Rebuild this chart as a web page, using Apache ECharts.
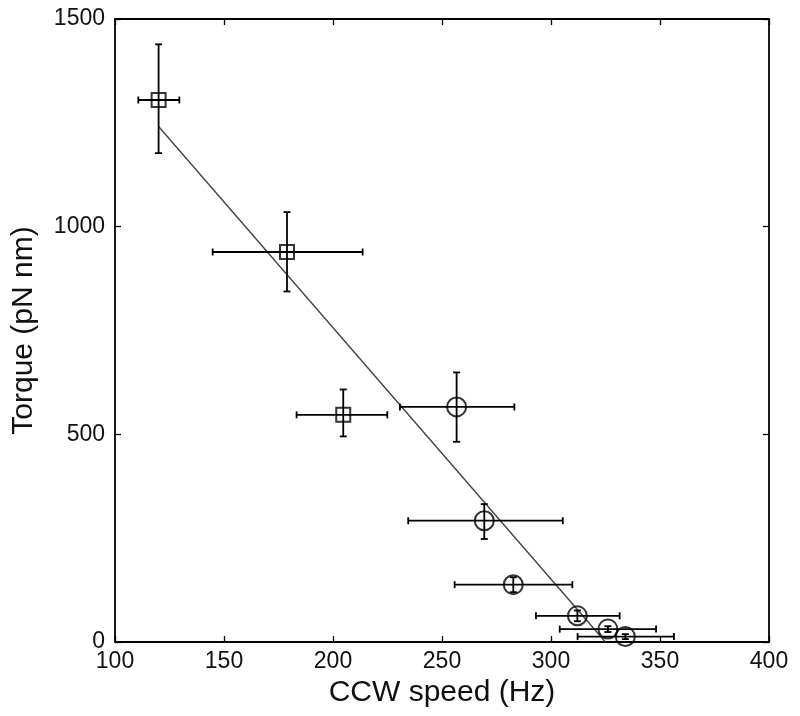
<!DOCTYPE html>
<html>
<head>
<meta charset="utf-8">
<script src="https://cdn.jsdelivr.net/npm/echarts@6/dist/echarts.min.js"></script>
<style>
html,body{margin:0;padding:0;background:#fff;}
#chart{width:800px;height:716px;}
</style>
</head>
<body>
<div id="chart"></div>
<script>
// Squares
const squareSpeed    = [120.0, 178.9, 204.7];
const squareTorque   = [1305, 939, 547];
const squareSpeedLo  = [110.7, 144.8, 183.3];
const squareSpeedHi  = [129.5, 213.6, 224.9];
const squareTorqueLo = [1177, 844, 495];
const squareTorqueHi = [1439, 1035, 608];

// Circles
const circleSpeed    = [256.7, 269.4, 282.7, 312.1, 326.1, 334.1];
const circleTorque   = [566, 292, 138, 63, 31, 13];
const circleSpeedLo  = [230.7, 234.5, 255.8, 293.1, 304.0, 312.2];
const circleSpeedHi  = [283.2, 305.4, 309.8, 331.5, 348.2, 356.4];
const circleTorqueLo = [482, 248, 120, 50, 24, 7];
const circleTorqueHi = [649, 332, 156, 76, 38, 19];

// Linear fit
const fitSpeed  = [120, 325];
const fitTorque = [1241, 0];

// Axis ticks
const xTicks = [100, 150, 200, 250, 300, 350, 400];
const yTicks = [0, 500, 1000, 1500];

function errData(xs, ys, xlo, xhi, ylo, yhi) {
  return xs.map((x, i) => [x, ys[i], xlo[i], xhi[i], ylo[i], yhi[i]]);
}

const CAP = 3.5;
function renderErr(params, api) {
  const c = api.coord([api.value(0), api.value(1)]);
  const l = api.coord([api.value(2), api.value(1)]);
  const r = api.coord([api.value(3), api.value(1)]);
  const b = api.coord([api.value(0), api.value(4)]);
  const t = api.coord([api.value(0), api.value(5)]);
  const st = { stroke: '#000', lineWidth: 1.8 };
  const ln = (x1, y1, x2, y2) => ({ type: 'line', shape: { x1, y1, x2, y2 }, style: st });
  return {
    type: 'group',
    children: [
      ln(l[0], c[1], r[0], c[1]),
      ln(l[0], c[1] - CAP, l[0], c[1] + CAP),
      ln(r[0], c[1] - CAP, r[0], c[1] + CAP),
      ln(c[0], b[1], c[0], t[1]),
      ln(c[0] - CAP, b[1], c[0] + CAP, b[1]),
      ln(c[0] - CAP, t[1], c[0] + CAP, t[1])
    ]
  };
}

const font = 'Liberation Sans, Arial, Helvetica, sans-serif';
const axisLineStyle = { color: '#000', width: 1.8 };
const plain = v => String(v);

const chart = echarts.init(document.getElementById('chart'), null, { renderer: 'canvas' });
chart.setOption({
  animation: false,
  backgroundColor: '#fff',
  grid: { left: 115, right: 31, top: 19, bottom: 74 },
  xAxis: [
    {
      type: 'value', min: xTicks[0], max: xTicks[xTicks.length - 1], interval: 50,
      position: 'bottom',
      name: 'CCW speed (Hz)', nameLocation: 'middle', nameGap: 36,
      nameTextStyle: { fontFamily: font, fontSize: 30, color: '#111' },
      axisLine: { show: true, onZero: false, lineStyle: axisLineStyle },
      axisTick: { show: true, inside: true, length: 6, lineStyle: { color: '#000', width: 1.3 } },
      axisLabel: { fontFamily: font, fontSize: 23, color: '#111', margin: 8, formatter: plain },
      splitLine: { show: false }
    },
    {
      type: 'value', min: xTicks[0], max: xTicks[xTicks.length - 1], interval: 50,
      position: 'top',
      axisLine: { show: true, onZero: false, lineStyle: axisLineStyle },
      axisTick: { show: true, inside: true, length: 6, lineStyle: { color: '#000', width: 1.3 } },
      axisLabel: { show: false },
      splitLine: { show: false }
    }
  ],
  yAxis: [
    {
      type: 'value', min: yTicks[0], max: yTicks[yTicks.length - 1], interval: 500,
      position: 'left',
      name: 'Torque (pN nm)', nameLocation: 'middle', nameGap: 76,
      nameTextStyle: { fontFamily: font, fontSize: 30, color: '#111' },
      axisLine: { show: true, onZero: false, lineStyle: axisLineStyle },
      axisTick: { show: true, inside: true, length: 6, lineStyle: { color: '#000', width: 1.3 } },
      axisLabel: { fontFamily: font, fontSize: 23, color: '#111', margin: 10, formatter: plain },
      splitLine: { show: false }
    },
    {
      type: 'value', min: yTicks[0], max: yTicks[yTicks.length - 1], interval: 500,
      position: 'right',
      axisLine: { show: true, onZero: false, lineStyle: axisLineStyle },
      axisTick: { show: true, inside: true, length: 6, lineStyle: { color: '#000', width: 1.3 } },
      axisLabel: { show: false },
      splitLine: { show: false }
    }
  ],
  series: [
    {
      type: 'line',
      data: fitSpeed.map((x, i) => [x, fitTorque[i]]),
      symbol: 'none',
      lineStyle: { color: '#444', width: 1.4 },
      z: 2
    },
    {
      type: 'custom',
      renderItem: renderErr,
      data: errData(squareSpeed, squareTorque, squareSpeedLo, squareSpeedHi, squareTorqueLo, squareTorqueHi),
      encode: { x: [0, 2, 3], y: [1, 4, 5] },
      z: 3
    },
    {
      type: 'custom',
      renderItem: renderErr,
      data: errData(circleSpeed, circleTorque, circleSpeedLo, circleSpeedHi, circleTorqueLo, circleTorqueHi),
      encode: { x: [0, 2, 3], y: [1, 4, 5] },
      z: 3
    },
    {
      type: 'scatter',
      data: squareSpeed.map((x, i) => [x, squareTorque[i]]),
      symbol: 'rect',
      symbolSize: 14,
      itemStyle: { color: 'rgba(0,0,0,0)', borderColor: '#000', borderWidth: 2 },
      z: 4
    },
    {
      type: 'scatter',
      data: circleSpeed.map((x, i) => [x, circleTorque[i]]),
      symbol: 'circle',
      symbolSize: 19,
      itemStyle: { color: 'rgba(0,0,0,0)', borderColor: '#000', borderWidth: 2 },
      z: 4
    }
  ]
});
</script>
</body>
</html>
